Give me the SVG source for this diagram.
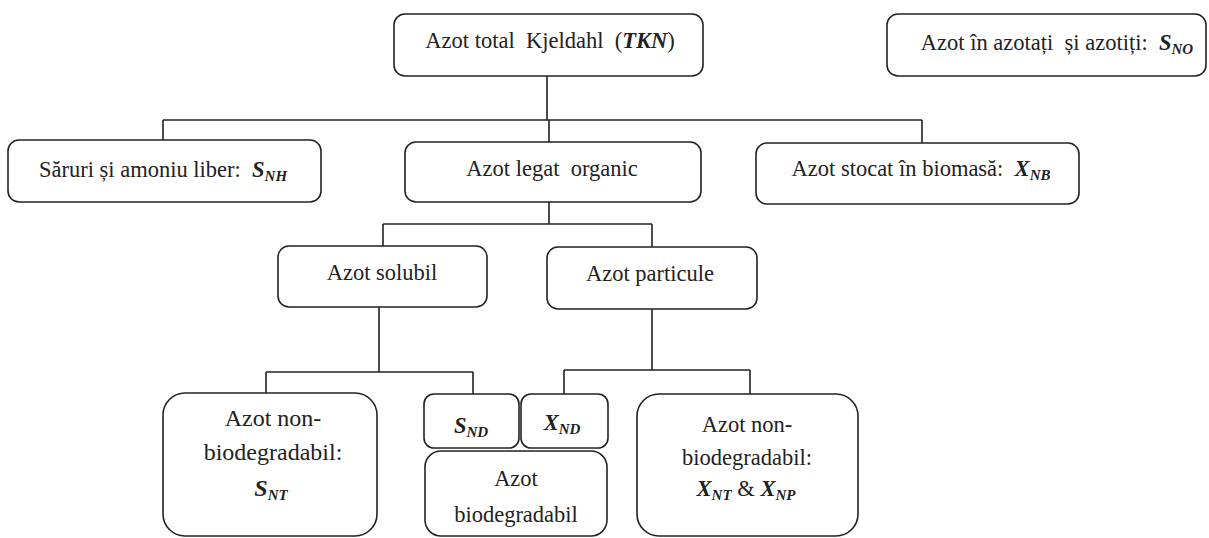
<svg xmlns="http://www.w3.org/2000/svg" width="1209" height="538" viewBox="0 0 1209 538">
<style>
.box{fill:#fff;stroke:#222;stroke-width:1.6}
.ln{fill:none;stroke:#222;stroke-width:1.6}
text{font-family:'Liberation Serif',Tinos,'Times New Roman',Times,'DejaVu Serif',serif;font-size:22.5px;fill:#222;text-anchor:middle}
.big{font-size:24px}
.v{font-weight:bold;font-style:italic}
.s{font-style:italic;font-weight:bold;font-size:15px}
</style>
<rect width="1209" height="538" fill="#fff"/>
<g id="connectors">
<path class="ln" d="M547 76V120M163 120H922M163 120V140M549 120V142M922 120V143"/>
<path class="ln" d="M549 202V224M383 224H652M383 224V246M652 224V247"/>
<path class="ln" d="M379 307V372M266 372H473M266 372V393M473 372V394"/>
<path class="ln" d="M652 309V370M564 370H750M564 370V394M750 370V394"/>
</g>
<g id="tkn">
<rect class="box" x="394" y="14" width="309" height="62" rx="11"/>
<text x="550" y="48" xml:space="preserve">Azot total  Kjeldahl  (<tspan class="v">TKN</tspan>)</text>
</g>
<g id="sno">
<rect class="box" x="887" y="14" width="319" height="62" rx="11"/>
<text x="1057" y="50" xml:space="preserve">Azot în azotați  și azotiți:  <tspan class="v">S</tspan><tspan class="s" dy="4">NO</tspan></text>
</g>
<g id="snh">
<rect class="box" x="8" y="140" width="313" height="62" rx="11"/>
<text x="163" y="177" xml:space="preserve">Săruri și amoniu liber:  <tspan class="v">S</tspan><tspan class="s" dy="4">NH</tspan></text>
</g>
<g id="organic">
<rect class="box" x="405" y="142" width="296" height="60" rx="11"/>
<text x="552" y="176" xml:space="preserve">Azot legat  organic</text>
</g>
<g id="xnb">
<rect class="box" x="756" y="143" width="323" height="61" rx="11"/>
<text x="921" y="176" xml:space="preserve">Azot stocat în biomasă:  <tspan class="v">X</tspan><tspan class="s" dy="4">NB</tspan></text>
</g>
<g id="solubil">
<rect class="box" x="278" y="246" width="209" height="61" rx="11"/>
<text x="382" y="280">Azot solubil</text>
</g>
<g id="particule">
<rect class="box" x="547" y="247" width="210" height="62" rx="11"/>
<text x="650" y="281">Azot particule</text>
</g>
<g id="snt">
<rect class="box" x="163" y="393" width="214" height="143" rx="22"/>
<text class="big" x="273" y="426">Azot non-</text>
<text class="big" x="273" y="460">biodegradabil:</text>
<text class="big" x="271" y="496"><tspan class="v">S</tspan><tspan class="s" dy="4">NT</tspan></text>
</g>
<g id="snd">
<rect class="box" x="424" y="394" width="95" height="54" rx="10"/>
<text x="471" y="433"><tspan class="v">S</tspan><tspan class="s" dy="4">ND</tspan></text>
</g>
<g id="xnd">
<rect class="box" x="521" y="394" width="87" height="54" rx="10"/>
<text x="562" y="430"><tspan class="v">X</tspan><tspan class="s" dy="4">ND</tspan></text>
</g>
<g id="biodeg">
<rect class="box" x="425" y="451" width="182" height="85" rx="16"/>
<text x="516" y="486">Azot</text>
<text x="516" y="522">biodegradabil</text>
</g>
<g id="xnt">
<rect class="box" x="637" y="394" width="221" height="142" rx="22"/>
<text x="747" y="432">Azot non-</text>
<text x="747" y="465">biodegradabil:</text>
<text x="746" y="496" xml:space="preserve"><tspan class="v">X</tspan><tspan class="s" dy="4">NT</tspan><tspan dy="-4"> &amp; </tspan><tspan class="v">X</tspan><tspan class="s" dy="4">NP</tspan></text>
</g>
</svg>
